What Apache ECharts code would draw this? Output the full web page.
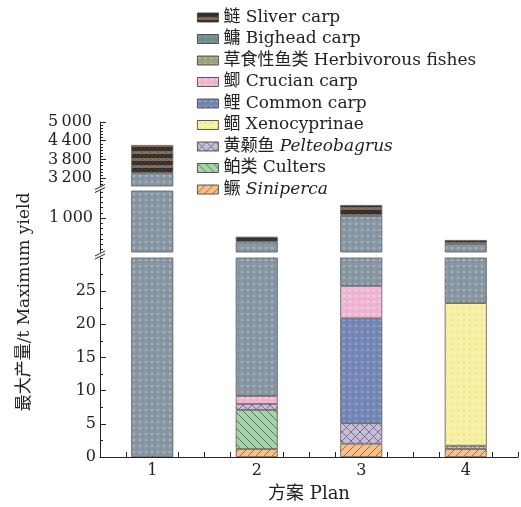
<!DOCTYPE html>
<html>
<head>
<meta charset="utf-8">
<script src="https://cdn.jsdelivr.net/npm/echarts@6/dist/echarts.min.js"></script>
<style>
html,body{margin:0;padding:0;background:#fff;}
#chart{width:521px;height:507px;}
</style>
</head>
<body>
<div id="chart"></div>
<script>
// ---- data ----
const categories = ['1', '2', '3', '4'];
const siniperca    = [0, 1.2, 2.0, 1.2];
const culters      = [0, 5.9, 0, 0];
const pelteobagrus = [0, 0.9, 3.1, 0.5];
const xenocyprinae = [0, 0, 0, 21.5];
const commonCarp   = [0, 0, 15.8, 0];
const crucianCarp  = [0, 1.2, 4.9, 0];
const herbivorous  = [0, 0, 0, 0];
const bigheadCarp  = [3368, 539, 1020, 480];
const silverCarp   = [896, 95, 205, 77];

const topTicks = [3200, 3800, 4400, 5000];
const midTicks = [1000];
const lowTicks = [0, 5, 10, 15, 20, 25];

const seriesNames = [
  '鳜 Siniperca', '鲌类 Culters', '黄颡鱼 Pelteobagrus', '鲴 Xenocyprinae',
  '鲤 Common carp', '鲫 Crucian carp', '草食性鱼类 Herbivorous fishes',
  '鳙 Bighead carp', '鲢 Sliver carp'
];
const seriesData = [siniperca, culters, pelteobagrus, xenocyprinae, commonCarp,
  crucianCarp, herbivorous, bigheadCarp, silverCarp];
const italicNames = ['Siniperca', 'Pelteobagrus'];

// ---- patterns ----
function tile(w, h, draw) {
  const c = document.createElement('canvas');
  c.width = w; c.height = h;
  const ctx = c.getContext('2d');
  draw(ctx, w, h);
  return { image: c, repeat: 'repeat' };
}
function diag(ctx, s, dir, col) {
  ctx.strokeStyle = col; ctx.lineWidth = 0.9;
  ctx.beginPath();
  for (let k = -1; k <= 1; k++) {
    if (dir > 0) { ctx.moveTo(k * s, s); ctx.lineTo(k * s + s, 0); }
    else { ctx.moveTo(k * s, 0); ctx.lineTo(k * s + s, s); }
  }
  ctx.stroke();
}
function dots(bg, c1, c2) {
  return tile(6, 6, (ctx) => {
    ctx.fillStyle = bg; ctx.fillRect(0, 0, 6, 6);
    ctx.fillStyle = c1; ctx.fillRect(1, 1, 2, 2);
    ctx.fillStyle = c2; ctx.fillRect(4, 4, 1, 1);
  });
}
const patterns = [
  tile(8, 8, (ctx, w) => { ctx.fillStyle = '#f8bf8a'; ctx.fillRect(0, 0, w, w); diag(ctx, w, 1, '#8a6848'); }),
  tile(8, 8, (ctx, w) => { ctx.fillStyle = '#a5d2a8'; ctx.fillRect(0, 0, w, w); diag(ctx, w, -1, '#506a55'); }),
  tile(9, 9, (ctx, w) => { ctx.fillStyle = '#c7bdd8'; ctx.fillRect(0, 0, w, w); diag(ctx, w, 1, '#6f6682'); diag(ctx, w, -1, '#6f6682'); }),
  dots('#f7f2a3', '#ede68c', '#fbf8c8'),
  dots('#7487b6', '#96a5cb', '#5f709e'),
  dots('#efb6d2', '#f6d0e2', '#e29cc0'),
  dots('#a3a27c', '#b9b894', '#8c8b68'),
  dots('#8797a4', '#aab7c2', '#707f8c'),
  tile(4, 7, (ctx) => {
    ctx.fillStyle = '#352d29'; ctx.fillRect(0, 0, 4, 4);
    ctx.fillStyle = '#7a6656'; ctx.fillRect(0, 4, 4, 3);
    ctx.fillStyle = '#54473e'; ctx.fillRect(1, 1, 1, 1); ctx.fillRect(3, 3, 1, 1);
    ctx.fillStyle = '#988270'; ctx.fillRect(0, 5, 1, 1); ctx.fillRect(2, 6, 1, 1);
  })
];
const bigheadLegendPattern = dots('#6f8e90', '#7f9ea0', '#5f7e80');

// ---- layout ----
const FONT = "'DejaVu Serif', 'Noto Sans CJK SC', serif";
const grids = [
  { left: 100, right: 3, top: 122, height: 64 },
  { left: 100, right: 3, top: 191, height: 61 },
  { left: 100, right: 3, top: 258, height: 199 }
];
const ranges = [[2950, 5000], [350, 1520], [0, 30]];
const majors = [topTicks, midTicks, lowTicks];
const minorStep = [100, 100, 2.5];
const labelMargin = [8, 7, 4];
const fmt = v => {
  const s = String(v);
  return s.length > 3 ? s.slice(0, s.length - 3) + '\u2009' + s.slice(-3) : s;
};

const xAxis = [];
const yAxis = [];
for (let g = 0; g < 3; g++) {
  xAxis.push({
    type: 'category', gridIndex: g, data: categories, show: g === 2,
    position: 'bottom',
    axisLine: { lineStyle: { color: '#222', width: 1 } },
    axisTick: { show: false },
    axisLabel: { color: '#222', fontFamily: FONT, fontSize: 16, margin: 6 }
  });
  const [mn, mx] = ranges[g];
  const minors = [];
  for (let v = Math.ceil(mn / minorStep[g]) * minorStep[g]; v <= mx + 1e-9; v += minorStep[g]) {
    if (majors[g].indexOf(v) < 0) minors.push(v);
  }
  yAxis.push({
    type: 'value', gridIndex: g, min: mn, max: mx,
    axisLine: { show: true, lineStyle: { color: '#222', width: 1 } },
    axisTick: { show: true, inside: true, length: 6, customValues: majors[g], lineStyle: { color: '#222' } },
    axisLabel: { customValues: majors[g], formatter: fmt, color: '#222', fontFamily: FONT, fontSize: 16, margin: labelMargin[g] },
    splitLine: { show: false }
  });
  yAxis.push({
    type: 'value', gridIndex: g, min: mn, max: mx, position: 'left',
    axisLine: { show: false },
    axisTick: { show: true, inside: true, length: 3, customValues: minors, lineStyle: { color: '#222' } },
    axisLabel: { show: false },
    splitLine: { show: false }
  });
}
// quarter ticks on the bottom axis
xAxis.push({
  type: 'value', gridIndex: 2, min: 0, max: 16, interval: 1, position: 'bottom',
  axisLine: { show: false }, axisLabel: { show: false }, splitLine: { show: false },
  axisTick: { show: true, inside: true, length: 5, lineStyle: { color: '#222' } }
});

const series = [];
for (let g = 0; g < 3; g++) {
  seriesNames.forEach((name, i) => {
    series.push({
      type: 'bar', name, xAxisIndex: g, yAxisIndex: 2 * g, stack: 'g' + g,
      barWidth: 42, clip: true, silent: true,
      data: seriesData[i].map(v => (v === 0 ? '-' : v)),
      itemStyle: { color: patterns[i], borderColor: '#5a5a5a', borderWidth: 0.8 }
    });
  });
}

// break marks
const graphic = [];
const breaks = [
  (grids[0].top + grids[0].height + grids[1].top) / 2,
  (grids[1].top + grids[1].height + grids[2].top) / 2
];
breaks.forEach(yc => {
  [-1.5, 1.5].forEach(off => {
    graphic.push({ type: 'line', shape: { x1: 95, y1: yc + off + 2.5, x2: 105, y2: yc + off - 2.5 },
      style: { stroke: '#222', lineWidth: 1 } });
  });
});
graphic.push({
  type: 'text', x: 25, y: 302, rotation: Math.PI / 2,
  style: { text: '最大产量/t Maximum yield', font: "17px " + FONT, fill: '#222', align: 'center', verticalAlign: 'middle' }
});
graphic.push({
  type: 'text', x: 309, y: 494,
  style: { text: '方案 Plan', font: "18px " + FONT, fill: '#222', align: 'center', verticalAlign: 'middle' }
});

const legendOrder = seriesNames.slice().reverse().map(n =>
  n === '鳙 Bighead carp' ? { name: n, itemStyle: { color: bigheadLegendPattern } } : { name: n });
const option = {
  backgroundColor: '#fff',
  animation: false,
  grid: grids,
  xAxis, yAxis, series, graphic,
  legend: {
    orient: 'vertical', left: 192, top: 4, itemGap: 4.5,
    itemWidth: 21, itemHeight: 9, icon: 'rect',
    data: legendOrder,
    itemStyle: { borderColor: '#333', borderWidth: 0.8 },
    formatter: name => {
      const idx = name.indexOf(' ');
      const cn = name.slice(0, idx), en = name.slice(idx + 1);
      return '{c|' + cn + ' }' + (italicNames.indexOf(en) >= 0 ? '{i|' + en + '}' : '{e|' + en + '}');
    },
    textStyle: {
      color: '#222', fontFamily: FONT, fontSize: 17, lineHeight: 17,
      rich: {
        c: { fontFamily: FONT, fontSize: 17, lineHeight: 17, color: '#222' },
        e: { fontFamily: FONT, fontSize: 17, lineHeight: 17, color: '#222' },
        i: { fontFamily: FONT, fontSize: 17, lineHeight: 17, fontStyle: 'italic', color: '#222' }
      }
    }
  }
};
const chart = echarts.init(document.getElementById('chart'), null, { renderer: 'canvas' });
chart.setOption(option);
</script>
</body>
</html>
